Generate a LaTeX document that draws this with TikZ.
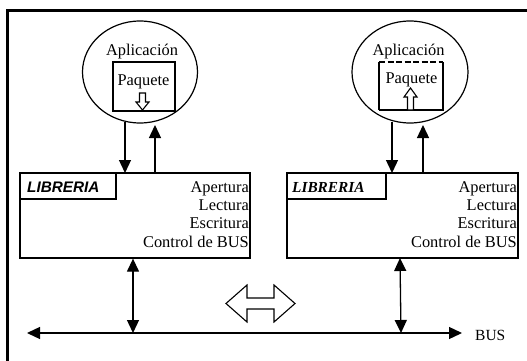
\documentclass[tikz,border=0pt]{standalone}
\usepackage{fontspec}
\setmainfont{Liberation Serif}
\newfontfamily\arialfont{Liberation Sans}
\usetikzlibrary{arrows.meta,shapes.geometric}
\tikzset{
  txt/.style={font=\fontsize{16.4}{18}\selectfont, inner sep=0pt},
  box/.style={draw, line width=1.3pt},
  arr/.style={line width=1.3pt, -{Triangle[length=13pt,width=12pt]}},
  darr/.style={line width=1.3pt, {Triangle[length=13pt,width=12pt]}-{Triangle[length=13pt,width=12pt]}},
  hollow/.style={draw, line width=1.1pt, fill=white, line join=miter},
}
\begin{document}
\begin{tikzpicture}[x=1pt,y=-1pt]
\useasboundingbox (0,0) rectangle (527,361);
% frame
\draw[line width=3pt] (7.5,361) -- (7.5,10.5) -- (527,10.5);

% applications
\node[ellipse, draw, line width=1.2pt, minimum width=115pt, minimum height=102pt, inner sep=0pt] (app1) at (140,72) {};
\node[ellipse, draw, line width=1.2pt, minimum width=116pt, minimum height=102pt, inner sep=0pt] (app2) at (410,72) {};
\node[txt, anchor=base] (apl1) at (142,56) {Aplicación};
\node[txt, anchor=base] (apl2) at (408.5,56) {Aplicación};

% paquete boxes
\draw[box] (113,62) rectangle (175,111);
\node[txt, anchor=base] (paq1) at (143.5,85) {Paquete};
\draw[box] (379,110) -- (379,62);
\draw[box, dash pattern=on 6pt off 2.5pt] (379,62) -- (443,62);
\draw[box] (443,62) -- (443,110) -- (379,110);
\node[txt, anchor=base] (paq2) at (411.5,83) {Paquete};

% hollow arrows inside paquete
\draw[hollow] (139.5,93) -- (145.5,93) -- (145.5,102) -- (149,102) -- (142.5,110) -- (136,102) -- (139.5,102) -- cycle;
\draw[hollow] (407.5,110) -- (413.5,110) -- (413.5,97) -- (417,97) -- (410.5,88) -- (404,97) -- (407.5,97) -- cycle;

% library boxes
\node[box, minimum width=230pt, minimum height=85pt, inner sep=0pt] (lib1) at (135,215.5) {};
\node[box, minimum width=231pt, minimum height=85pt, inner sep=0pt] (lib2) at (402.5,215.5) {};
\draw[box] (lib1.north west) rectangle (116,199);
\draw[box] (lib2.north west) rectangle (386,199);
\node[inner sep=0pt, anchor=base west, font=\arialfont\fontsize{15.3}{18}\selectfont\bfseries\itshape] (lb1) at (27,192) {LIBRERIA};
\node[inner sep=0pt, anchor=base west, font=\fontsize{15.3}{18}\selectfont\bfseries\itshape] (lb2) at (292,192) {LIBRERIA};

\node[txt, anchor=base east] (a1) at (249,192) {Apertura};
\node[txt, anchor=base east] (l1) at (249,210) {Lectura};
\node[txt, anchor=base east] (e1) at (249,228) {Escritura};
\node[txt, anchor=base east] (c1) at (249,247) {Control de BUS};
\node[txt, anchor=base east] (a2) at (517,192) {Apertura};
\node[txt, anchor=base east] (l2) at (517,210) {Lectura};
\node[txt, anchor=base east] (e2) at (517,228) {Escritura};
\node[txt, anchor=base east] (c2) at (517,247) {Control de BUS};

% app <-> library connectors
\coordinate (d1s) at (125,122); \coordinate (d1e) at (125,173);
\coordinate (u1s) at (155,173); \coordinate (u1e) at (155,125);
\coordinate (d2s) at (392,122); \coordinate (d2e) at (392,173);
\coordinate (u2s) at (423,173); \coordinate (u2e) at (423,125);
\draw[arr] (d1s) -- (d1e);
\draw[arr] (u1s) -- (u1e);
\draw[arr] (d2s) -- (d2e);
\draw[arr] (u2s) -- (u2e);

% bus
\coordinate (busL) at (27,333);
\coordinate (busR) at (462,333);
\draw[darr] (busL) -- (busR);
\node[inner sep=0pt, anchor=base west, font=\fontsize{15.5}{18}\selectfont] (bus) at (475,340) {BUS};
\coordinate (b1) at (133,333);
\coordinate (b2) at (401,333);
\draw[darr] (lib1.south -| b1) -- (b1);
\draw[darr] (400,258) -- (b2);

% hollow double arrow
\draw[hollow] (226,303.5) -- (247,285) -- (247,298) -- (274,298) -- (274,285) -- (295,303.5) -- (274,322) -- (274,309) -- (247,309) -- (247,322) -- cycle;
\end{tikzpicture}
\end{document}
